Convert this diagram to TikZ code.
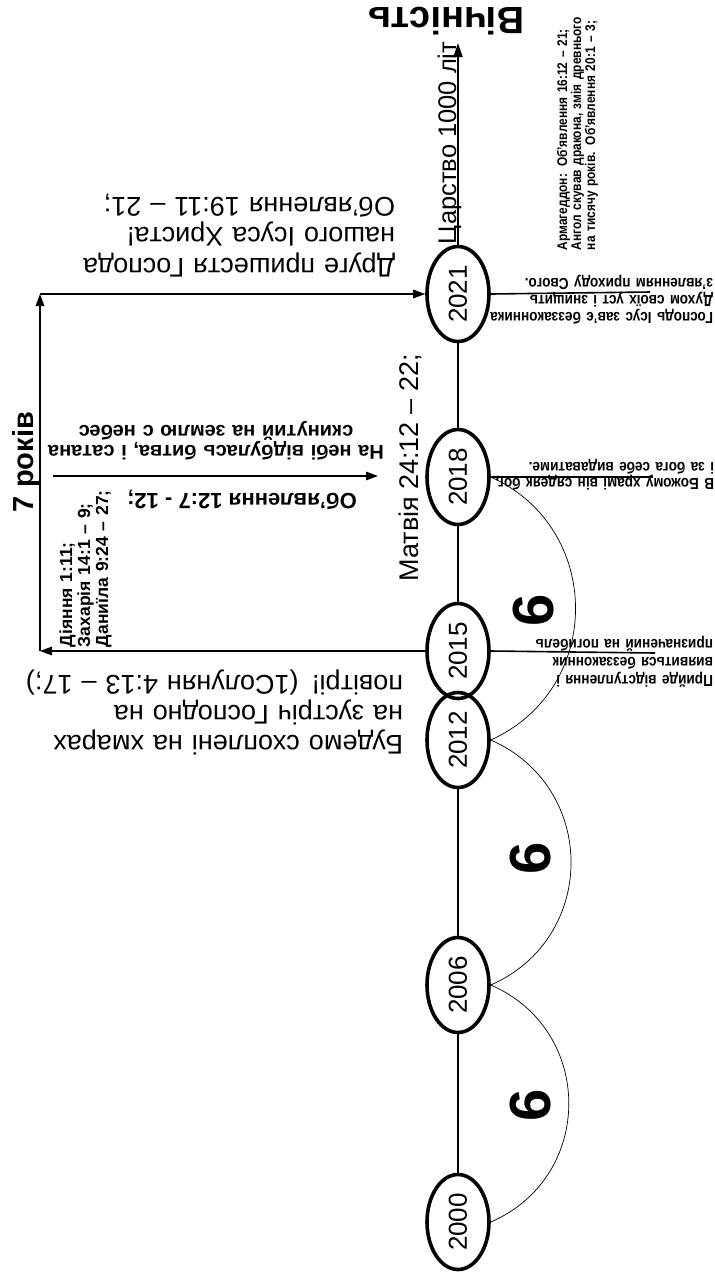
\documentclass[tikz,border=0pt]{standalone}
\usepackage{fontspec}
\setmainfont{Liberation Sans}
\newfontfamily\nar{Liberation Sans}[FakeStretch=0.85]
\usepackage{graphicx}
\usetikzlibrary{arrows.meta,shapes.geometric}
\newcommand{\fsz}[2]{\fontsize{#1}{#2}\selectfont}
\newcommand{\jl}[1]{\makebox[\linewidth][s]{#1}}
\begin{document}
\begin{tikzpicture}[x=1pt,y=-1pt,
  txt/.style={inner sep=0pt, outer sep=0pt},
  year/.style={ellipse, draw, line width=3.6pt, minimum width=62pt, minimum height=95pt, inner sep=0pt, font=\fsz{26}{26}},
  axisline/.style={line width=2pt},
  conn/.style={line width=1.6pt},
  arr/.style={line width=1.6pt, -{Triangle[length=12pt,width=8.5pt]}},
  arcline/.style={line width=0.7pt},
  bignum/.style={txt, rotate=90, font=\bfseries\fsz{58}{58}},
  note/.style={txt, rotate=180, anchor=base west, align=left, font=\nar\bfseries\fsz{16}{17}},
]
\useasboundingbox (0,0) rectangle (715,1283);

% ---- texts
\node[txt, rotate=180, anchor=base, font=\bfseries\fsz{38}{38}] (eternity) at (446,7) {Вічність};
\node[txt, rotate=90, anchor=base, font=\fsz{25.5}{25.5}] (kingdom) at (456,143) {Царство 1000 літ};
\node[txt, rotate=90, anchor=base west, text width=238pt, align=left, font=\nar\bfseries\fsz{14}{14}] (armag) at (567,250)
  {\jl{Армагеддон: Об’явлення 16:12 – 21;}\\ \jl{Ангол скував дракона, змія древнього}\\ на тисячу років. Об’явлення 20:1 – 3;};
\node[note, text width=226pt] (t2021) at (713,312)
  {\jl{Господь Ісус зав’є беззаконника}\\ \jl{Духом своїх уст і знищить}\\ з’явленням приходу Свого.};
\node[note, text width=221pt, font=\nar\bfseries\fsz{16}{16}] (t2018) at (714,478)
  {\jl{В Божому храмі він сядеяк бог,}\\ і за бога себе видаватиме.};
\node[note, text width=175pt, font=\nar\bfseries\fsz{16}{18}] (t2015) at (713,675)
  {\jl{Прийде відступлення і}\\ \jl{виявиться беззаконник}\\ \jl{призначений на погибель}};
\node[txt, rotate=180, anchor=base west, text width=318pt, align=left, font=\fsz{27}{30.5}] (second) at (395,258)
  {\jl{Друге пришестя Господа}\\ \jl{нашого Ісуса Христа!}\\ Об’явлення 19:11 – 21;};
\node[txt, rotate=180, anchor=base west, text width=353pt, align=left, font=\fsz{27}{30}] (rapture) at (403,735)
  {\jl{Будемо схоплені на хмарах}\\ \jl{на зустріч Господно на}\\ \mbox{повітрі! (1Солунян 4:13 – 17;)}};
\node[txt, rotate=90, anchor=base west, text width=170pt, align=left, font=\bfseries\fsz{17.5}{18}] (refs) at (72,647)
  {Діяння 1:11;\\ Захарія 14:1 – 9;\\ Даниїла 9:24 – 27;};
\node[txt, rotate=180, anchor=base, text width=340pt, align=center, font=\bfseries\fsz{20}{20}] (battle) at (216,445)
  {На небі відбулась битва, і сатана\\ скинутий на землю с небес};
\node[txt, rotate=180, anchor=base, font=\bfseries\fsz{22}{22}] (rev12) at (242,493) {Об’явлення 12:7 - 12;};
\node[txt, rotate=90, anchor=base, font=\fsz{27}{27}] (matt) at (418,468) {Матвія 24:12 – 22;};
\node[txt, rotate=90, anchor=base, font=\bfseries\fsz{29}{29}] (seven) at (33,462) {7 років};
\node[bignum] (six1) at (531,1105) {6};
\node[bignum] (six2) at (531,858) {6};
\node[bignum] (six3) at (534,610) {6};

% ---- year ellipses
\node[year, fill=white] (y2000) at (458,1222) {\rotatebox{90}{2000}};
\node[year, fill=white] (y2006) at (458,985) {\rotatebox{90}{2006}};
\node[year] (y2012) at (458,740) {\rotatebox{90}{2012}};
\node[year] (y2015) at (458,651) {\rotatebox{90}{2015}};
\node[year, fill=white] (y2018) at (458,477) {\rotatebox{90}{2018}};
\node[year, fill=white] (y2021) at (458,294) {\rotatebox{90}{2021}};

% ---- free ends
\coordinate (topend) at (458,43);
\coordinate (cl) at (40,651);
\coordinate (cu) at (40,294);
\coordinate (ml) at (53,476);
\coordinate (mr) at (378,476);
\coordinate (r2021) at (650,292);
\coordinate (r2018) at (653,477);
\coordinate (r2015) at (655,653);

% ---- axis
\draw[axisline] (y2000) -- (y2006);
\draw[axisline] (y2006) -- (y2012);
\draw[axisline] (y2015) -- (y2018);
\draw[axisline] (y2018) -- (y2021);
\draw[axisline, -{Triangle[length=14pt,width=9pt]}] (y2021) -- (topend);

% ---- arcs
\draw[arcline] (y2000.east) .. controls +(104,-45) and +(104,45) .. (y2006.east);
\draw[arcline] (y2006.east) .. controls +(107,-47) and +(107,47) .. (y2012.east);
\draw[arcline] (y2012.east) .. controls +(113,-51) and +(113,51) .. (y2018.east);

% ---- seven-year loop
\draw[arr] (y2015.west) -- (cl);
\draw[arr] (cl) -- (cu);
\draw[arr] (cu) -- (y2021.west);
\draw[arr] (ml) -- (mr);

% ---- right leaders
\draw[conn] (y2021.east) -- (r2021);
\draw[conn] (y2018.east) -- (r2018);
\draw[conn] (y2015.east) -- (r2015);
\end{tikzpicture}
\end{document}
